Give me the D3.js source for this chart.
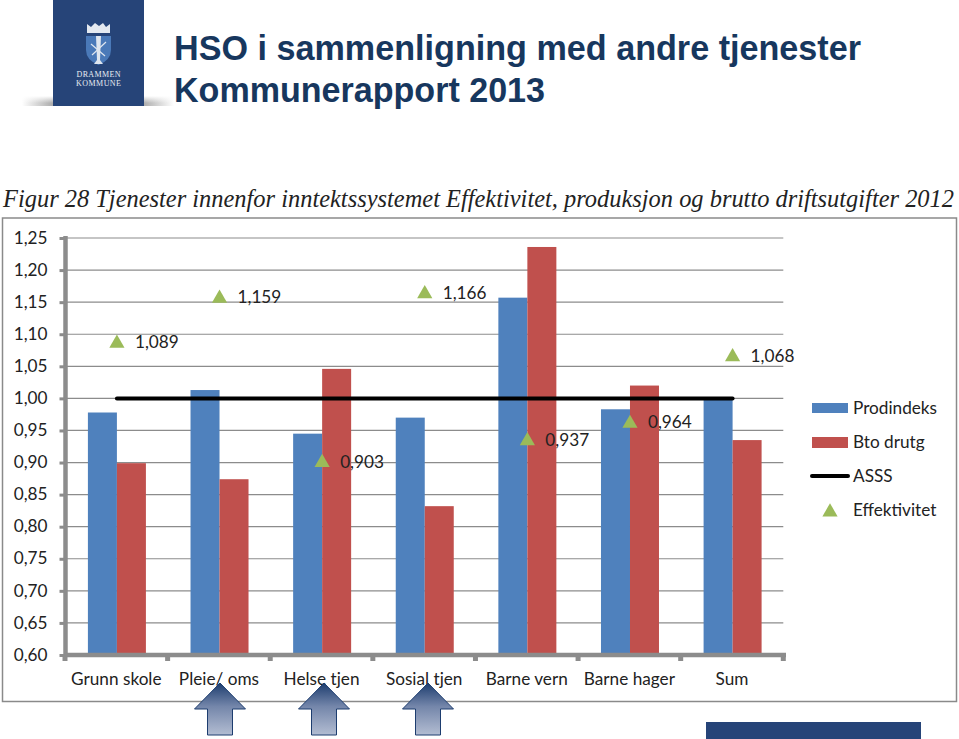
<!DOCTYPE html>
<html><head><meta charset="utf-8">
<script src="https://cdnjs.cloudflare.com/ajax/libs/d3/7.8.5/d3.min.js"></script>
<style>html,body{margin:0;padding:0;background:#fff}svg{display:block}</style></head>
<body><svg id="c" width="959" height="739"></svg>
<script>
const categories=["Grunn skole","Pleie/ oms","Helse tjen","Sosial tjen","Barne vern","Barne hager","Sum"];
const prodindeks=[0.978,1.013,0.945,0.970,1.157,0.983,1.000];
const btoDrutg=[0.899,0.874,1.046,0.832,1.236,1.020,0.935];
const asss=[1,1,1,1,1,1,1];
const effektivitet=[1.089,1.159,0.903,1.166,0.937,0.964,1.068];
const effLabels=["1,089","1,159","0,903","1,166","0,937","0,964","1,068"];
const yTicks=[0.60,0.65,0.70,0.75,0.80,0.85,0.90,0.95,1.00,1.05,1.10,1.15,1.20,1.25];
const arrowCats=["Pleie/ oms","Helse tjen","Sosial tjen"];
const legendItems=["Prodindeks","Bto drutg","ASSS","Effektivitet"];

const svg=d3.select("#c");
const defs=svg.append("defs");
const ag=defs.append("linearGradient").attr("id","ag").attr("x1",0).attr("x2",0).attr("y1",0).attr("y2",1);
ag.append("stop").attr("offset","0").attr("stop-color","#1d3d6f");
ag.append("stop").attr("offset","0.45").attr("stop-color","#7486aa");
ag.append("stop").attr("offset","1").attr("stop-color","#b3bdd2");
const sg=defs.append("linearGradient").attr("id","sg").attr("x1",0).attr("x2",1).attr("y1",0).attr("y2",0);
sg.append("stop").attr("offset","0").attr("stop-color","#fff");
sg.append("stop").attr("offset","0.25").attr("stop-color","#999");
sg.append("stop").attr("offset","0.75").attr("stop-color","#999");
sg.append("stop").attr("offset","1").attr("stop-color","#fff");
const sv=defs.append("linearGradient").attr("id","sv").attr("x1",0).attr("x2",0).attr("y1",0).attr("y2",1);
sv.append("stop").attr("offset","0").attr("stop-color","#fff").attr("stop-opacity",1);
sv.append("stop").attr("offset","1").attr("stop-color","#fff").attr("stop-opacity",0);

// logo
svg.append("rect").attr("x",22).attr("y",96).attr("width",152).attr("height",10).attr("fill","url(#sg)");
svg.append("rect").attr("x",22).attr("y",96).attr("width",152).attr("height",7).attr("fill","url(#sv)");
svg.append("rect").attr("x",53).attr("y",0).attr("width",91).attr("height",106).attr("fill","#264478");
const lg=svg.append("g");
lg.append("path").attr("d","M87 24 L87 33 L110 33 L110 24 L106 27 L103 23 L99 26 L95 23 L91 27 Z").attr("fill","#e4e9f0");
lg.append("path").attr("d","M86 36 L111 36 L111 50 Q111 60 98.5 65 Q86 60 86 50 Z").attr("fill","#4a79b8");
lg.append("path").attr("d","M96 36 L101 36 L100 60 L103 64 L94 64 L97 60 Z").attr("fill","#dfe6ef");
lg.append("path").attr("d","M92 55 L106 42 M91 44 L105 56").attr("stroke","#dfe6ef").attr("stroke-width",1.2);
lg.append("text").attr("x",98.5).attr("y",77).attr("text-anchor","middle").attr("fill","#e8edf4").style("font","8px 'Liberation Serif'").attr("textLength",44).text("DRAMMEN");
lg.append("text").attr("x",98.5).attr("y",86).attr("text-anchor","middle").attr("fill","#e8edf4").style("font","8px 'Liberation Serif'").attr("textLength",45).text("KOMMUNE");

// titles
const tf="bold 35px 'Liberation Sans'";
svg.append("text").attr("x",174).attr("y",60).attr("fill","#17375e").style("font",tf).attr("textLength",687).attr("lengthAdjust","spacingAndGlyphs").text("HSO i sammenligning med andre tjenester");
svg.append("text").attr("x",174).attr("y",102).attr("fill","#17375e").style("font",tf).attr("textLength",371).attr("lengthAdjust","spacingAndGlyphs").text("Kommunerapport 2013");
svg.append("text").attr("x",3).attr("y",207).attr("fill","#222").style("font","italic 24.5px 'Liberation Serif'").attr("textLength",951).attr("lengthAdjust","spacingAndGlyphs").text("Figur 28 Tjenester innenfor inntektssystemet Effektivitet, produksjon og brutto driftsutgifter 2012");

// frame
svg.append("rect").attr("x",2.5).attr("y",218).attr("width",954).attr("height",483.5).attr("fill","#fff").attr("stroke","#8a8a8a").attr("stroke-width",1.5);

const x=d3.scaleBand().domain(categories).range([65,783.3]);
const y=d3.scaleLinear().domain([0.60,1.25]).range([655,238]);
const barW=29;
const font="'Lato'";
const labelFont="17.2px "+font;
const cx=d=>x(d)+x.bandwidth()/2+0.6;

// gridlines
svg.append("g").selectAll("line").data(yTicks.slice(1)).join("line")
 .attr("x1",65).attr("x2",783.3).attr("y1",d=>y(d)).attr("y2",d=>y(d))
 .attr("stroke","#8c8c8c").attr("stroke-width",1.2);

// bars
svg.append("g").selectAll("rect").data(categories).join("rect")
 .attr("x",d=>cx(d)-barW).attr("width",barW)
 .attr("y",(d,i)=>y(prodindeks[i])).attr("height",(d,i)=>y(0.6)-y(prodindeks[i])).attr("fill","#4f81bd");
svg.append("g").selectAll("rect").data(categories).join("rect")
 .attr("x",d=>cx(d)).attr("width",barW)
 .attr("y",(d,i)=>y(btoDrutg[i])).attr("height",(d,i)=>y(0.6)-y(btoDrutg[i])).attr("fill","#c0504d");

// axes
const yAxis=d3.axisLeft(y).tickValues(yTicks).tickSize(6).tickPadding(6).tickFormat(d=>d3.format(".2f")(d).replace(".",","));
const gy=svg.append("g").attr("transform","translate(65.5,0)").call(yAxis);
const xAxis=d3.axisBottom(x).tickSize(0).tickPadding(18);
const gx=svg.append("g").attr("transform","translate(0,655)").call(xAxis);
[gy,gx].forEach(g=>{g.selectAll("text").attr("fill","#222").style("font",labelFont);
 g.select(".domain").attr("stroke","#8c8c8c").attr("stroke-width",4.5);
 g.selectAll(".tick line").attr("stroke","#8c8c8c").attr("stroke-width",3);});
gy.selectAll("text").attr("dx",-6).attr("dy","0.3em");
gx.select(".domain").attr("d","M65,0H786");
gy.select(".domain").attr("d","M0,236V657");
const bandEdges=categories.map(c=>x(c)).concat([x(categories[6])+x.bandwidth()]);
svg.append("g").selectAll("line").data(bandEdges).join("line")
 .attr("x1",d=>d).attr("x2",d=>d).attr("y1",655).attr("y2",661).attr("stroke","#8c8c8c").attr("stroke-width",5);

// ASSS line
const line=d3.line().x(d=>cx(d.c)).y(d=>y(d.v));
svg.append("path").datum(categories.map((c,i)=>({c,v:asss[i]}))).attr("d",line)
 .attr("fill","none").attr("stroke","#000").attr("stroke-width",4).attr("stroke-linecap","round");

// triangles
const tri=d3.symbol().type(d3.symbolTriangle).size(100);
svg.append("g").selectAll("path").data(categories).join("path").attr("d",tri)
 .attr("transform",(d,i)=>`translate(${cx(d)},${y(effektivitet[i])+2})`).attr("fill","#9bbb59");
svg.append("g").selectAll("text").data(categories).join("text")
 .attr("x",d=>cx(d)+18).attr("y",(d,i)=>y(effektivitet[i])+7)
 .attr("fill","#222").style("font",labelFont).text((d,i)=>effLabels[i]);

// legend
const ly=[408,442,476,510];
const lg2=svg.append("g");
lg2.append("rect").attr("x",812).attr("y",403).attr("width",36).attr("height",10).attr("fill","#4f81bd");
lg2.append("rect").attr("x",812).attr("y",437).attr("width",36).attr("height",11).attr("fill","#c0504d");
lg2.append("line").attr("x1",812).attr("x2",848).attr("y1",476).attr("y2",476).attr("stroke","#000").attr("stroke-width",4).attr("stroke-linecap","round");
lg2.append("path").attr("d",tri).attr("transform","translate(830,512)").attr("fill","#9bbb59");
lg2.selectAll("text").data(legendItems).join("text").attr("x",853).attr("y",(d,i)=>ly[i]+6)
 .attr("fill","#222").style("font",labelFont).text(d=>d);

// arrows
const ax=d3.scalePoint().domain(arrowCats).range([220,428]);
svg.append("g").selectAll("path").data(arrowCats).join("path")
 .attr("transform",d=>`translate(${ax(d)},0)`)
 .attr("d","M0 683 L25.5 709 L12.5 709 L12.5 735 L-12.5 735 L-12.5 709 L-25.5 709 Z")
 .attr("fill","url(#ag)").attr("stroke","#1d3d6f").attr("stroke-width",1);

// bottom bar
svg.append("rect").attr("x",706).attr("y",722).attr("width",215).attr("height",17).attr("fill","#264478");
</script></body></html>
